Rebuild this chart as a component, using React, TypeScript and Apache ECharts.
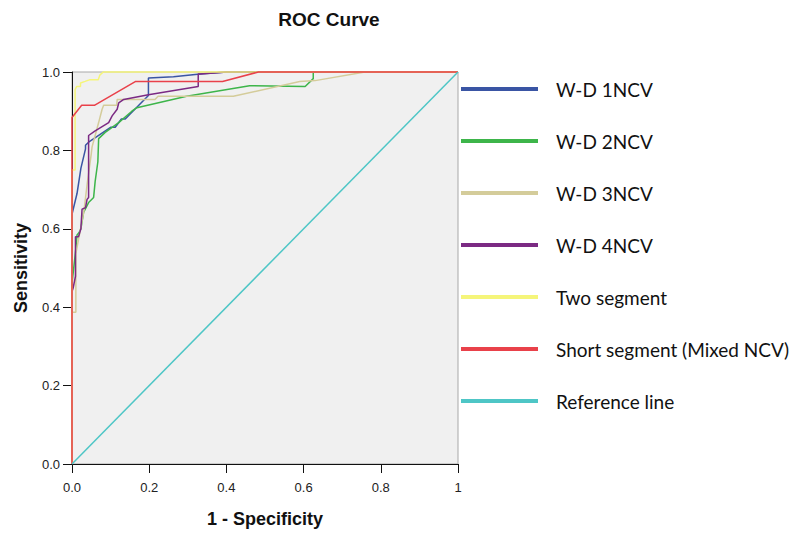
import React, { useEffect, useRef } from "react";
import * as echarts from "echarts";

const seriesNames = [
  "W-D 1NCV",
  "W-D 2NCV",
  "W-D 3NCV",
  "W-D 4NCV",
  "Two segment",
  "Short segment (Mixed NCV)",
  "Reference line",
];

const seriesColors = ["#3a55a4", "#3db54a", "#d4cc9a", "#7b2a83", "#f5f57a", "#e9414a", "#4ec6c6"];

const wd1ncv = [
  [0, 0], [0, 0.637], [0.013, 0.69], [0.023, 0.754], [0.035, 0.804], [0.035, 0.813],
  [0.043, 0.821], [0.1, 0.859], [0.112, 0.859], [0.128, 0.88], [0.138, 0.88],
  [0.15, 0.892], [0.198, 0.94], [0.198, 0.985], [0.263, 0.988], [0.332, 0.995],
  [0.401, 1], [1, 1],
];

const wd2ncv = [
  [0, 0], [0, 0.46], [0.01, 0.55], [0.013, 0.584], [0.018, 0.59], [0.023, 0.6],
  [0.03, 0.642], [0.043, 0.667], [0.056, 0.68], [0.06, 0.721], [0.067, 0.771],
  [0.069, 0.83], [0.086, 0.846], [0.121, 0.871], [0.155, 0.9], [0.168, 0.909],
  [0.297, 0.938], [0.46, 0.965], [0.604, 0.963], [0.625, 0.983], [0.625, 1], [1, 1],
];

const wd3ncv = [
  [0, 0], [0, 0.387], [0.01, 0.387], [0.01, 0.537], [0.031, 0.646], [0.04, 0.72],
  [0.05, 0.792], [0.052, 0.809], [0.06, 0.838], [0.069, 0.871], [0.078, 0.905],
  [0.082, 0.915], [0.116, 0.915], [0.117, 0.93], [0.215, 0.93], [0.223, 0.938],
  [0.418, 0.938], [0.59, 0.976], [0.63, 0.978], [0.759, 1], [1, 1],
];

const wd4ncv = [
  [0, 0], [0, 0.44], [0.003, 0.449], [0.009, 0.479], [0.009, 0.58], [0.017, 0.58],
  [0.023, 0.6], [0.026, 0.65], [0.035, 0.654], [0.039, 0.675], [0.043, 0.68],
  [0.043, 0.838], [0.06, 0.85], [0.095, 0.871], [0.104, 0.888], [0.117, 0.905],
  [0.121, 0.921], [0.134, 0.93], [0.198, 0.942], [0.327, 0.963], [0.327, 0.995],
  [0.332, 0.995], [0.401, 1], [1, 1],
];

const twoSegment = [
  [0, 0], [0, 0.75], [0.008, 0.75], [0.008, 0.955], [0.012, 0.963], [0.022, 0.963],
  [0.022, 0.972], [0.034, 0.976], [0.045, 0.98], [0.068, 0.98], [0.072, 0.992],
  [0.081, 1], [1, 1],
];

const shortSegment = [
  [0, 0], [0, 0.884], [0.025, 0.915], [0.058, 0.915], [0.165, 0.976], [0.39, 0.976],
  [0.483, 1], [1, 1],
];

const referenceLine = [
  [0, 0], [1, 1],
];

const allData = [wd1ncv, wd2ncv, wd3ncv, wd4ncv, twoSegment, shortSegment, referenceLine];

export default function App() {
  const ref = useRef<HTMLDivElement>(null);

  useEffect(() => {
    if (!ref.current) return;
    const chart = echarts.init(ref.current, null, { renderer: "svg" });
    const axisFont = "'Liberation Sans', Arial, sans-serif";
    chart.setOption({
      animation: false,
      backgroundColor: "#ffffff",
      title: {
        text: "ROC Curve",
        left: 324,
        top: 5,
        textAlign: "center",
        textStyle: { fontFamily: axisFont, fontSize: 19, fontWeight: "bold", color: "#111" },
      },
      legend: {
        orient: "vertical",
        left: 456,
        top: 72,
        icon: "rect",
        itemWidth: 77,
        itemHeight: 4,
        itemGap: 28,
        data: seriesNames,
        textStyle: {
          fontFamily: "Lato, 'Open Sans', sans-serif",
          fontSize: 19,
          lineHeight: 24,
          color: "#111",
          padding: [0, 0, 0, 13],
        },
      },
      grid: {
        left: 72,
        top: 72,
        width: 386,
        height: 399,
        show: true,
        backgroundColor: "#f0f0f0",
        borderColor: "#a8a8a8",
        borderWidth: 1,
      },
      xAxis: {
        type: "value",
        min: 0,
        max: 1,
        interval: 0.2,
        name: "1 - Specificity",
        nameLocation: "middle",
        nameGap: 46,
        nameTextStyle: { fontFamily: axisFont, fontSize: 18, fontWeight: "bold", color: "#111" },
        axisLine: { show: true, lineStyle: { color: "#111", width: 1 } },
        axisTick: { show: true, length: 9, lineStyle: { color: "#111" } },
        axisLabel: {
          margin: 17,
          fontFamily: axisFont,
          fontSize: 13,
          color: "#222",
          formatter: (v: number) => (v === 1 ? "1" : v.toFixed(1)),
        },
        splitLine: { show: false },
      },
      yAxis: {
        type: "value",
        min: 0,
        max: 1,
        interval: 0.2,
        name: "Sensitivity",
        nameLocation: "middle",
        nameGap: 42,
        nameTextStyle: { fontFamily: axisFont, fontSize: 18, fontWeight: "bold", color: "#111" },
        axisLine: { show: true, lineStyle: { color: "#111", width: 1 } },
        axisTick: { show: true, length: 9, lineStyle: { color: "#111" } },
        axisLabel: {
          margin: 12,
          fontFamily: axisFont,
          fontSize: 13,
          color: "#222",
          formatter: (v: number) => v.toFixed(1),
        },
        splitLine: { show: false },
      },
      series: seriesNames.map((name, i) => ({
        name,
        type: "line",
        data: allData[i],
        showSymbol: false,
        symbol: "none",
        clip: false,
        color: seriesColors[i],
        lineStyle: { color: seriesColors[i], width: 1.5 },
        z: 2 + i,
      })),
    });
    return () => chart.dispose();
  }, []);

  return (
    <div
      ref={ref}
      style={{ position: "fixed", left: 0, top: 0, width: 795, height: 533 }}
    />
  );
}
